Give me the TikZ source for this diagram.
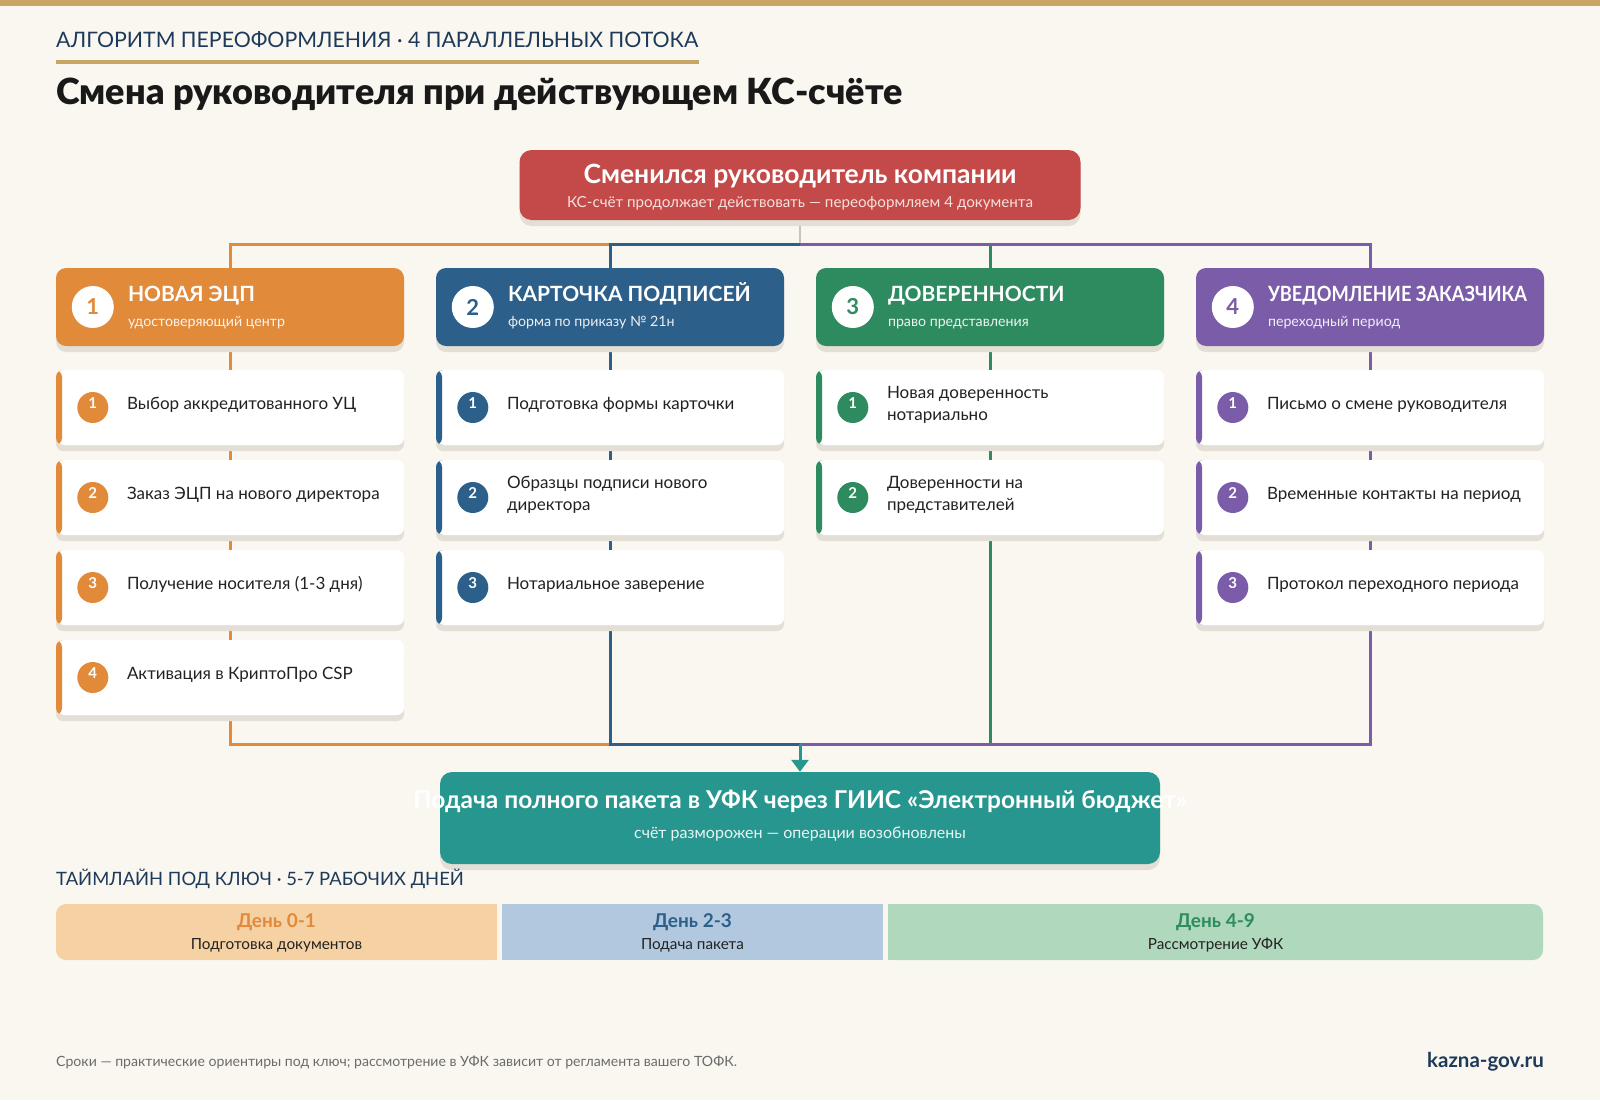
\documentclass[tikz,border=0pt]{standalone}
\usepackage{fontspec}
\setmainfont{Lato}
\newfontfamily\blackf{Lato Black}
\usetikzlibrary{arrows.meta,shadows,calc}
\definecolor{bgc}{HTML}{FAF7F0}
\definecolor{gold}{HTML}{C9A563}
\definecolor{navy}{HTML}{1E3A5A}
\definecolor{corange}{HTML}{E08A3A}
\definecolor{cblue}{HTML}{2C5F8A}
\definecolor{cgreen}{HTML}{2E8B5F}
\definecolor{cpurple}{HTML}{7A5CA8}
\definecolor{cred}{HTML}{C44A4A}
\definecolor{cteal}{HTML}{27968F}
\definecolor{lorange}{HTML}{F5D1A3}
\definecolor{lblue}{HTML}{B1C8DE}
\definecolor{lgreen}{HTML}{AFD8BD}
\definecolor{shadowc}{HTML}{E3DFD6}
\definecolor{ctxt}{HTML}{222222}
\definecolor{fgray}{HTML}{6B6B6B}
\definecolor{conn}{HTML}{C8C4BA}
\definecolor{subw}{HTML}{F6E0DC}
\pgfdeclarelayer{bglayer}
\pgfsetlayers{bglayer,main}
\newcommand\fsz[2]{\fontsize{#1}{#2}\selectfont}
\tikzset{
  shad/.style={drop shadow={shadow xshift=0pt,shadow yshift=-6pt,opacity=1,fill=shadowc,shadow scale=1}},
  hdr/.style={shad, rounded corners=10pt, minimum width=348pt, minimum height=78pt, inner sep=0pt, fill=#1},
  card/.style={shad, rounded corners=7pt, minimum width=348pt, minimum height=75pt, inner sep=0pt, fill=white,
    path picture={\fill[#1] (path picture bounding box.south west) rectangle ([xshift=6pt]path picture bounding box.north west);}},
  numc/.style={circle, fill=white, minimum size=42pt, inner sep=0pt, font=\fsz{22}{26}\bfseries},
  htitle/.style={anchor=base west, inner sep=0pt, text=white, font=\fsz{21}{24}\bfseries},
  hsub/.style={anchor=base west, inner sep=0pt, text=white, opacity=.9, font=\fsz{14.2}{16}},
  cnum/.style={circle, minimum size=31pt, inner sep=0pt},
  cnumt/.style={inner sep=0pt, text=white, font=\fsz{15}{18}\bfseries},
  ctext/.style={anchor=west, inner sep=0pt, align=left, text=ctxt, font=\fsz{17}{22}},
  ln/.style={line width=3pt, draw=#1},
  daytitle/.style={inner sep=0pt, font=\fsz{19}{22}\bfseries},
  daysub/.style={inner sep=0pt, text=ctxt, font=\fsz{15.3}{17}},
}
\newcommand\hdr[6]{%
  \node[hdr=#3] (#1) at (#2,307) {};
  \node[numc, text=#3] (#1n) at ($(#1.west)+(37,0)$) {#4};
  \node[htitle] (#1t) at ($(#1.north west)+(72,34)$) {#5};
  \node[hsub] (#1s) at ($(#1.north west)+(72,59)$) {#6};
}
\newcommand\crd[6]{%
  \node[card=#4] (#1) at (#2,#3) {};
  \node[cnum, fill=#4] (#1c) at ($(#1.west)+(37,0)$) {};
  \node[cnumt] (#1k) at ($(#1c)+(0,-4.5)$) {#5};
  \node[ctext] (#1x) at ($(#1.west)+(71,-3)$) {#6};
}
\begin{document}
\begin{tikzpicture}[x=1pt,y=-1pt]
\useasboundingbox (0,0) rectangle (1600,1100);
\begin{pgfonlayer}{bglayer}
\fill[bgc] (0,0) rectangle (1600,1100);
\end{pgfonlayer}
\fill[gold] (0,0) rectangle (1600,6);

% headings
\node[anchor=west, inner sep=0pt, text=navy, font=\fsz{21.3}{24}] (kicker) at (56,40) {АЛГОРИТМ ПЕРЕОФОРМЛЕНИЯ · 4 ПАРАЛЛЕЛЬНЫХ ПОТОКА};
\fill[gold] (56,60) rectangle (699,64);
\node[anchor=west, inner sep=0pt, text=black!90, font=\fsz{36}{40}\blackf] (title) at (56,94) {Смена руководителя при действующем КС-счёте};

% top box
\node[shad, fill=cred, rounded corners=12pt, minimum width=561pt, minimum height=70pt, inner sep=0pt] (top) at (800,185) {};
\node[inner sep=0pt, text=white, font=\fsz{26.5}{30}\bfseries] (topt) at (800,176) {Сменился руководитель компании};
\node[inner sep=0pt, text=subw, font=\fsz{15.2}{17}] (tops) at (800,203) {КС-счёт продолжает действовать — переоформляем 4 документа};

% headers
\hdr{h1}{230}{corange}{1}{НОВАЯ ЭЦП}{удостоверяющий центр}
\hdr{h2}{610}{cblue}{2}{КАРТОЧКА ПОДПИСЕЙ}{форма по приказу № 21н}
\hdr{h3}{990}{cgreen}{3}{ДОВЕРЕННОСТИ}{право представления}
\hdr{h4}{1370}{cpurple}{4}{\scalebox{0.87}[1]{УВЕДОМЛЕНИЕ ЗАКАЗЧИКА}}{переходный период}

% cards
\crd{a1}{230}{407.5}{corange}{1}{Выбор аккредитованного УЦ}
\crd{a2}{230}{497.5}{corange}{2}{Заказ ЭЦП на нового директора}
\crd{a3}{230}{587.5}{corange}{3}{Получение носителя (1-3 дня)}
\crd{a4}{230}{677.5}{corange}{4}{Активация в КриптоПро CSP}
\crd{b1}{610}{407.5}{cblue}{1}{Подготовка формы карточки}
\crd{b2}{610}{497.5}{cblue}{2}{Образцы подписи нового\\директора}
\crd{b3}{610}{587.5}{cblue}{3}{Нотариальное заверение}
\crd{g1}{990}{407.5}{cgreen}{1}{Новая доверенность\\нотариально}
\crd{g2}{990}{497.5}{cgreen}{2}{Доверенности на\\представителей}
\crd{p1}{1370}{407.5}{cpurple}{1}{Письмо о смене руководителя}
\crd{p2}{1370}{497.5}{cpurple}{2}{Временные контакты на период}
\crd{p3}{1370}{587.5}{cpurple}{3}{Протокол переходного периода}

% bottom box
\node[shad, fill=cteal, rounded corners=12pt, minimum width=720pt, minimum height=92pt, inner sep=0pt] (bot) at (800,818) {};
\node[inner sep=0pt, text=white, font=\fsz{24.5}{30}\bfseries] (bott) at (800,801) {Подача полного пакета в УФК через ГИИС «Электронный бюджет»};
\node[inner sep=0pt, text=white, opacity=.9, font=\fsz{16}{18}] (bots) at (800,834) {счёт разморожен — операции возобновлены};

% connectors
\coordinate (bus) at (800,244);
\coordinate (merge) at (800,744);
\begin{pgfonlayer}{bglayer}
\draw[line width=2pt, draw=conn] (top.south) -- (bus);
\draw[ln=corange] (bus) -| (h1.north);
\draw[ln=cgreen] (bus) -| (h3.north);
\draw[ln=cblue] (bus) -| (h2.north);
\draw[ln=cpurple] (bus) -| (h4.north);
\draw[ln=corange] (h1.south) |- (merge);
\draw[ln=cgreen] (h3.south) |- (merge);
\draw[ln=cblue] (h2.south) |- (merge);
\draw[ln=cpurple] (h4.south) |- (merge);
\end{pgfonlayer}
\draw[line width=3pt, draw=cteal, -{Triangle[length=12pt,width=17pt]}] (merge) -- (bot.north);

% timeline
\node[anchor=west, inner sep=0pt, text=navy, font=\fsz{18.4}{22}] (tlh) at (56,879) {ТАЙМЛАЙН ПОД КЛЮЧ · 5-7 РАБОЧИХ ДНЕЙ};
\node[fill=lorange, rounded corners=10pt, minimum width=441pt, minimum height=56pt, inner sep=0pt] (t1) at (276.5,932) {};
\fill[lorange] (300,904) rectangle (497,960);
\node[fill=lblue, minimum width=381pt, minimum height=56pt, inner sep=0pt] (t2) at (692.5,932) {};
\node[fill=lgreen, rounded corners=10pt, minimum width=655pt, minimum height=56pt, inner sep=0pt] (t3) at (1215.5,932) {};
\fill[lgreen] (888,904) rectangle (1100,960);
\node[daytitle, text=corange] (t1a) at (276.5,922) {День 0-1};
\node[daysub] (t1b) at (276.5,945) {Подготовка документов};
\node[daytitle, text=cblue] (t2a) at (692.5,922) {День 2-3};
\node[daysub] (t2b) at (692.5,945) {Подача пакета};
\node[daytitle, text=cgreen] (t3a) at (1215.5,922) {День 4-9};
\node[daysub] (t3b) at (1215.5,945) {Рассмотрение УФК};

% footer
\node[anchor=west, inner sep=0pt, text=fgray, font=\fsz{14.1}{17}] (foot) at (56,1062) {Сроки — практические ориентиры под ключ; рассмотрение в УФК зависит от регламента вашего ТОФК.};
\node[anchor=east, inner sep=0pt, text=navy, font=\fsz{20.5}{22}\bfseries] (brand) at (1544,1062) {kazna-gov.ru};
\end{tikzpicture}
\end{document}
